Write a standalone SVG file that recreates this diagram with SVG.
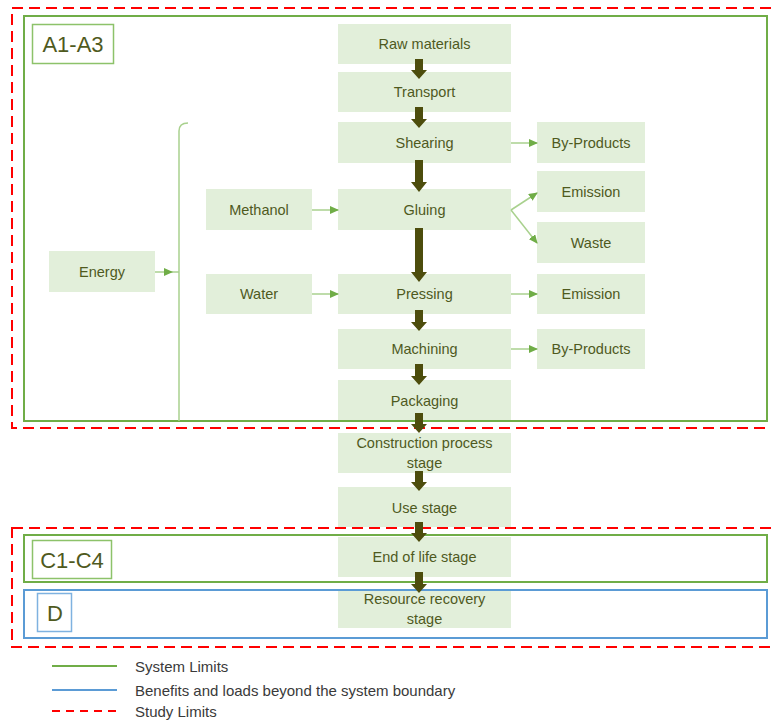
<svg xmlns="http://www.w3.org/2000/svg" width="771" height="720" viewBox="0 0 771 720">
<style>
.box{fill:#E2EFDA;}
.t{font-family:"Liberation Sans",Arial,sans-serif;font-size:14.5px;fill:#4F5A1E;text-anchor:middle;}
.lbl{font-family:"Liberation Sans",Arial,sans-serif;font-size:22px;fill:#4F5A1E;text-anchor:middle;}
.leg{font-family:"Liberation Sans",Arial,sans-serif;font-size:15px;fill:#3A3A3A;}
.sys{fill:none;stroke:#70AD47;stroke-width:2;}
.ben{fill:none;stroke:#5B9BD5;stroke-width:2;}
.study{fill:none;stroke:#FF0000;stroke-width:2;stroke-dasharray:11 6;}
.thin{fill:none;stroke:#A9D18E;stroke-width:1.5;}
.fl{fill:none;stroke:#8DC26A;stroke-width:1.5;}
.big{fill:#4D4D0D;}
</style>
<defs>
<marker id="ah" markerWidth="9" markerHeight="8" refX="8" refY="4" orient="auto" markerUnits="userSpaceOnUse">
<path d="M0,0 L9,4 L0,8 Z" fill="#70AD47"/>
</marker>
</defs>

<g id="nodes">
<g id="raw"><rect class="box" x="338" y="24" width="173" height="40"/><text class="t" x="424.5" y="49">Raw materials</text></g>
<g id="transport"><rect class="box" x="338" y="72" width="173" height="40"/><text class="t" x="424.5" y="97">Transport</text></g>
<g id="shearing"><rect class="box" x="338" y="122" width="173" height="41"/><text class="t" x="424.5" y="148">Shearing</text></g>
<g id="gluing"><rect class="box" x="338" y="189" width="173" height="41"/><text class="t" x="424.5" y="215">Gluing</text></g>
<g id="pressing"><rect class="box" x="338" y="274" width="173" height="40"/><text class="t" x="424.5" y="299">Pressing</text></g>
<g id="machining"><rect class="box" x="338" y="329" width="173" height="40"/><text class="t" x="424.5" y="354">Machining</text></g>
<g id="packaging"><rect class="box" x="338" y="380" width="173" height="41"/><text class="t" x="424.5" y="406">Packaging</text></g>
<g id="construction"><rect class="box" x="338" y="433" width="173" height="40"/><text class="t" x="424.5" y="448">Construction process</text><text class="t" x="424.5" y="468">stage</text></g>
<g id="use"><rect class="box" x="338" y="487" width="173" height="40"/><text class="t" x="424.5" y="513">Use stage</text></g>
<g id="endoflife"><rect class="box" x="338" y="537" width="173" height="40"/><text class="t" x="424.5" y="562">End of life stage</text></g>
<g id="recovery"><rect class="box" x="338" y="589" width="173" height="39"/><text class="t" x="424.5" y="604">Resource recovery</text><text class="t" x="424.5" y="624">stage</text></g>
<g id="byproducts1"><rect class="box" x="537" y="122" width="108" height="41"/><text class="t" x="591" y="148">By-Products</text></g>
<g id="emission1"><rect class="box" x="537" y="171" width="108" height="41"/><text class="t" x="591" y="197">Emission</text></g>
<g id="waste"><rect class="box" x="537" y="222" width="108" height="41"/><text class="t" x="591" y="248">Waste</text></g>
<g id="emission2"><rect class="box" x="537" y="274" width="108" height="40"/><text class="t" x="591" y="299">Emission</text></g>
<g id="byproducts2"><rect class="box" x="537" y="329" width="108" height="40"/><text class="t" x="591" y="354">By-Products</text></g>
<g id="methanol"><rect class="box" x="206" y="189" width="106" height="41"/><text class="t" x="259" y="215">Methanol</text></g>
<g id="water"><rect class="box" x="206" y="274" width="106" height="40"/><text class="t" x="259" y="299">Water</text></g>
<g id="energy"><rect class="box" x="49" y="251" width="106" height="41"/><text class="t" x="102" y="277">Energy</text></g>
</g>

<g id="boundaries">
<rect class="study" x="12" y="8" width="770" height="420"/>
<rect class="sys" x="24" y="16" width="743" height="405"/>
<g id="a1a3"><rect class="fl" x="32.5" y="24.5" width="81" height="39"/><text class="lbl" x="73" y="52">A1-A3</text></g>
<rect class="study" x="12" y="528" width="770" height="119"/>
<rect class="sys" x="24" y="535" width="743" height="47"/>
<g id="c1c4"><rect class="fl" x="32.5" y="540.5" width="79" height="38"/><text class="lbl" x="72" y="568">C1-C4</text></g>
<rect class="ben" x="24" y="590" width="743" height="48"/>
<g id="d"><rect fill="none" stroke="#7FB2E0" stroke-width="1.5" x="37.5" y="593.5" width="34" height="38"/><text class="lbl" x="55" y="621">D</text></g>
</g>

<g id="connectors">
<path class="thin" d="M188,123 Q179,123 179,131 L179,421"/>
<line class="thin" x1="172" y1="272" x2="179" y2="272"/>
<line class="thin" x1="155" y1="272" x2="172" y2="272" marker-end="url(#ah)"/>
<line class="thin" x1="312" y1="210" x2="338" y2="210" marker-end="url(#ah)"/>
<line class="thin" x1="312" y1="294" x2="338" y2="294" marker-end="url(#ah)"/>
<line class="thin" x1="511" y1="143" x2="537" y2="143" marker-end="url(#ah)"/>
<line class="thin" x1="511" y1="210" x2="537" y2="193" marker-end="url(#ah)"/>
<line class="thin" x1="511" y1="210" x2="537" y2="243" marker-end="url(#ah)"/>
<line class="thin" x1="511" y1="294" x2="537" y2="294" marker-end="url(#ah)"/>
<line class="thin" x1="511" y1="349" x2="537" y2="349" marker-end="url(#ah)"/>
<path class="big" d="M415,59 H423 V70 H427 L419,79 L411,70 H415 Z"/>
<path class="big" d="M415,107 H423 V119 H427 L419,128 L411,119 H415 Z"/>
<path class="big" d="M415,160 H423 V182 H427 L419,192 L411,182 H415 Z"/>
<path class="big" d="M415,228 H423 V272 H427 L419,282 L411,272 H415 Z"/>
<path class="big" d="M415,310 H423 V322 H427 L419,331 L411,322 H415 Z"/>
<path class="big" d="M415,364 H423 V376 H427 L419,385 L411,376 H415 Z"/>
<path class="big" d="M415,413 H423 V424 H427 L419,433 L411,424 H415 Z"/>
<path class="big" d="M415,471 H423 V482 H427 L419,491 L411,482 H415 Z"/>
<path class="big" d="M415,522 H423 V533 H427 L419,542 L411,533 H415 Z"/>
<path class="big" d="M415,572 H423 V584 H427 L419,593 L411,584 H415 Z"/>
</g>

<g id="legend">
<line x1="52" y1="666" x2="117" y2="666" stroke="#70AD47" stroke-width="2"/>
<text class="leg" x="135" y="672">System Limits</text>
<line x1="52" y1="690" x2="117" y2="690" stroke="#5B9BD5" stroke-width="2"/>
<text class="leg" x="135" y="696">Benefits and loads beyond the system boundary</text>
<line x1="52" y1="711" x2="117" y2="711" stroke="#FF0000" stroke-width="2" stroke-dasharray="8 6"/>
<text class="leg" x="135" y="717">Study Limits</text>
</g>
</svg>
